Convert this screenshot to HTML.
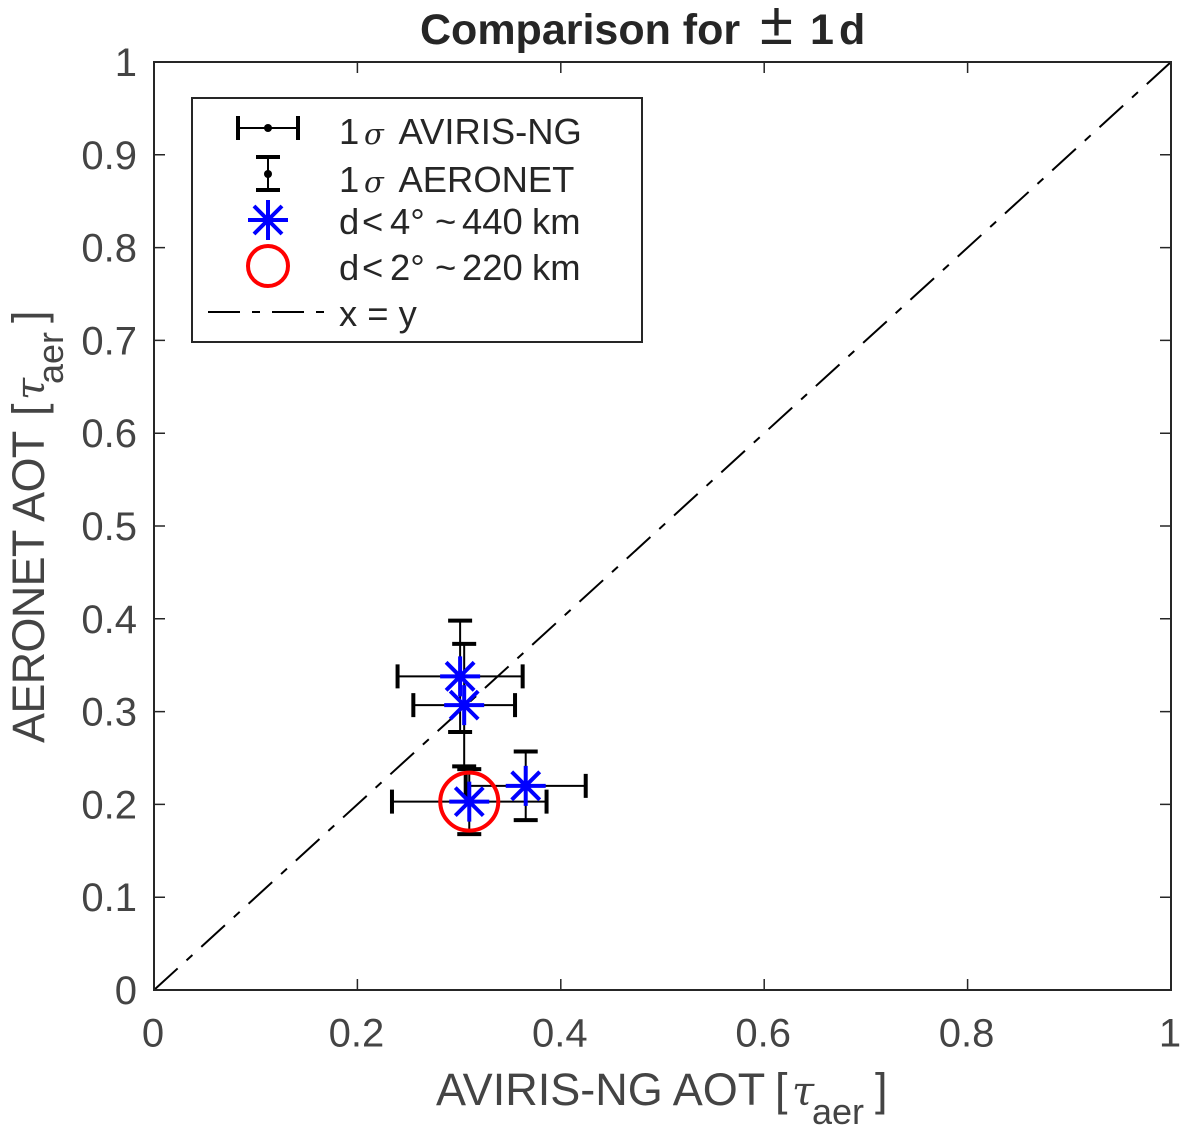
<!DOCTYPE html>
<html>
<head>
<meta charset="utf-8">
<style>
html,body{margin:0;padding:0;background:#fff;width:1187px;height:1136px;overflow:hidden}
svg{display:block}
text{font-family:"Liberation Sans",sans-serif}
.s{font-family:"DejaVu Serif","Liberation Serif",serif;font-style:italic}
</style>
</head>
<body>
<svg id="chart" xmlns="http://www.w3.org/2000/svg" width="1187" height="1136" viewBox="0 0 1187 1136">
  <text x="420" y="44" font-size="43" font-weight="bold" fill="#262626">Comparison for <tspan x="760" font-size="60" font-weight="normal">± </tspan><tspan x="810">1 </tspan><tspan x="839">d</tspan></text>
  <g id="diag"></g>
  <g id="marks"></g>
  <rect x="154" y="62" width="1017" height="928" fill="none" stroke="#262626" stroke-width="2"/>
  <g id="ticks"></g>
  <text x="436" y="1105" font-size="45" fill="#444">AVIRIS-NG AOT <tspan x="775">[</tspan><tspan class="s" x="792" font-size="40">τ</tspan><tspan x="812" dy="19" font-size="36">aer </tspan><tspan x="875" dy="-19">]</tspan></text>
  <text transform="translate(44,743) rotate(-90)" x="0" y="0" font-size="45" fill="#444"><tspan letter-spacing="-0.7">AERONET AOT </tspan><tspan x="327">[</tspan><tspan class="s" x="343" font-size="40">τ</tspan><tspan x="359" dy="19" font-size="36">aer </tspan><tspan x="420" dy="-19">]</tspan></text>
  <g>
    <rect x="192" y="98" width="450" height="244" fill="#fff" stroke="#262626" stroke-width="2"/>
    <g stroke="#000" fill="none">
      <path d="M238 128H298" stroke-width="2"/><path d="M238 116V140M298 116V140" stroke-width="4"/>
      <circle cx="268" cy="128" r="4" fill="#000" stroke="none"/>
    </g>
    <text x="339" y="144" font-size="36.4" fill="#262626">1 <tspan class="s" x="364" font-size="29">σ </tspan><tspan x="398.5">AVIRIS-NG</tspan></text>
    <g stroke="#000" fill="none">
      <path d="M268 157V190" stroke-width="2"/><path d="M256 157H280M256 190H280" stroke-width="4"/>
      <circle cx="268" cy="174" r="4" fill="#000" stroke="none"/>
    </g>
    <text x="339" y="192" font-size="36.4" fill="#262626">1 <tspan class="s" x="364" font-size="29">σ </tspan><tspan x="398.5">AERONET</tspan></text>
    <path d="M248 220H288M268 200V240M254 206L282 234M254 234L282 206" stroke="#0000ff" stroke-width="4" fill="none"/>
    <text x="339" y="234" font-size="36.4" fill="#262626">d<tspan x="362">&lt;</tspan><tspan x="390">4° </tspan><tspan x="435">~</tspan><tspan x="462">440 </tspan><tspan x="532">km</tspan></text>
    <circle cx="268" cy="266" r="20" fill="none" stroke="#ff0000" stroke-width="4"/>
    <text x="339" y="280" font-size="36.4" fill="#262626">d<tspan x="362">&lt;</tspan><tspan x="390">2° </tspan><tspan x="435">~</tspan><tspan x="462">220 </tspan><tspan x="532">km</tspan></text>
    <path d="M208 312H240M252 312H260M272 312H304M316 312H324" stroke="#000" stroke-width="2" fill="none"/>
    <text x="339" y="326" font-size="36.4" fill="#262626">x = y</text>
  </g>
</svg>
<script>
const xTickLabels = ['0','0.2','0.4','0.6','0.8','1'];
const xTickValues = [0,0.2,0.4,0.6,0.8,1];
const yTickLabels = ['0','0.1','0.2','0.3','0.4','0.5','0.6','0.7','0.8','0.9','1'];
const yTickValues = [0,0.1,0.2,0.3,0.4,0.5,0.6,0.7,0.8,0.9,1];
const aviris = [0.301,0.305,0.3655,0.310];
const aeronet = [0.338,0.307,0.220,0.203];
const avirisSigma = [0.0615,0.050,0.059,0.076];
const aeronetSigma = [0.060,0.066,0.037,0.035];
const within2deg = [false,false,false,true];
const diagonalEnds = [0,1];

const NS = 'http://www.w3.org/2000/svg';
const sx = v => 154 + v * 1017;
const sy = v => 990 - v * 928;
function mk(tag, attrs, parent){
  const e = document.createElementNS(NS, tag);
  for (const k in attrs) e.setAttribute(k, attrs[k]);
  parent.appendChild(e);
  return e;
}
const ticks = document.getElementById('ticks');
xTickValues.forEach((v,i)=>{
  const x = sx(v);
  const t = mk('path',{d:`M${x} 990v-11M${x} 62v11`,stroke:'#262626','stroke-width':1.5,fill:'none'},ticks);
  
  
  const l = mk('text',{x:x-1,y:1046.5,'font-size':40,fill:'#444','text-anchor':'middle'},ticks);
  
  
  l.textContent = xTickLabels[i];
});
yTickValues.forEach((v,i)=>{
  const y = sy(v);
  const t = mk('path',{d:`M154 ${y}h11M1171 ${y}h-11`,stroke:'#262626','stroke-width':1.5,fill:'none'},ticks);
  
  
  const l = mk('text',{x:137,y:y+14,'font-size':40,fill:'#444','text-anchor':'end'},ticks);
  
  
  l.textContent = yTickLabels[i];
});
const diag = document.getElementById('diag');
const dl = mk('line',{x1:sx(diagonalEnds[0]),y1:sy(diagonalEnds[0]),x2:sx(diagonalEnds[1]),y2:sy(diagonalEnds[1]),stroke:'#000','stroke-width':2,'stroke-dasharray':'32 12 8 12'},diag);



const marks = document.getElementById('marks');
aviris.forEach((xv,i)=>{
  const yv = aeronet[i];
  const cx = sx(xv), cy = sy(yv);
  const xa = sx(xv-avirisSigma[i]), xb = sx(xv+avirisSigma[i]);
  const ya = sy(yv-aeronetSigma[i]), yb = sy(yv+aeronetSigma[i]);
  const g = mk('g',{fill:'none',stroke:'#000'},marks);
  
  
  mk('path',{d:`M${xa} ${cy}H${xb}M${cx} ${ya}V${yb}`,'stroke-width':2},g);
  mk('path',{d:`M${xa} ${cy-12}V${cy+12}M${xb} ${cy-12}V${cy+12}M${cx-12} ${ya}H${cx+12}M${cx-12} ${yb}H${cx+12}`,'stroke-width':4},g);
});
aviris.forEach((xv,i)=>{
  const cx = sx(xv), cy = sy(aeronet[i]);
  const st = mk('path',{d:`M${cx-20} ${cy}H${cx+20}M${cx} ${cy-20}V${cy+20}M${cx-14} ${cy-14}L${cx+14} ${cy+14}M${cx-14} ${cy+14}L${cx+14} ${cy-14}`,stroke:'#0000ff','stroke-width':4,fill:'none'},marks);
  
  
  if (within2deg[i]) {
    const c = mk('circle',{cx:cx,cy:cy,r:29,fill:'none',stroke:'#ff0000','stroke-width':4},marks);
    
    
  }
});
</script>
</body>
</html>
